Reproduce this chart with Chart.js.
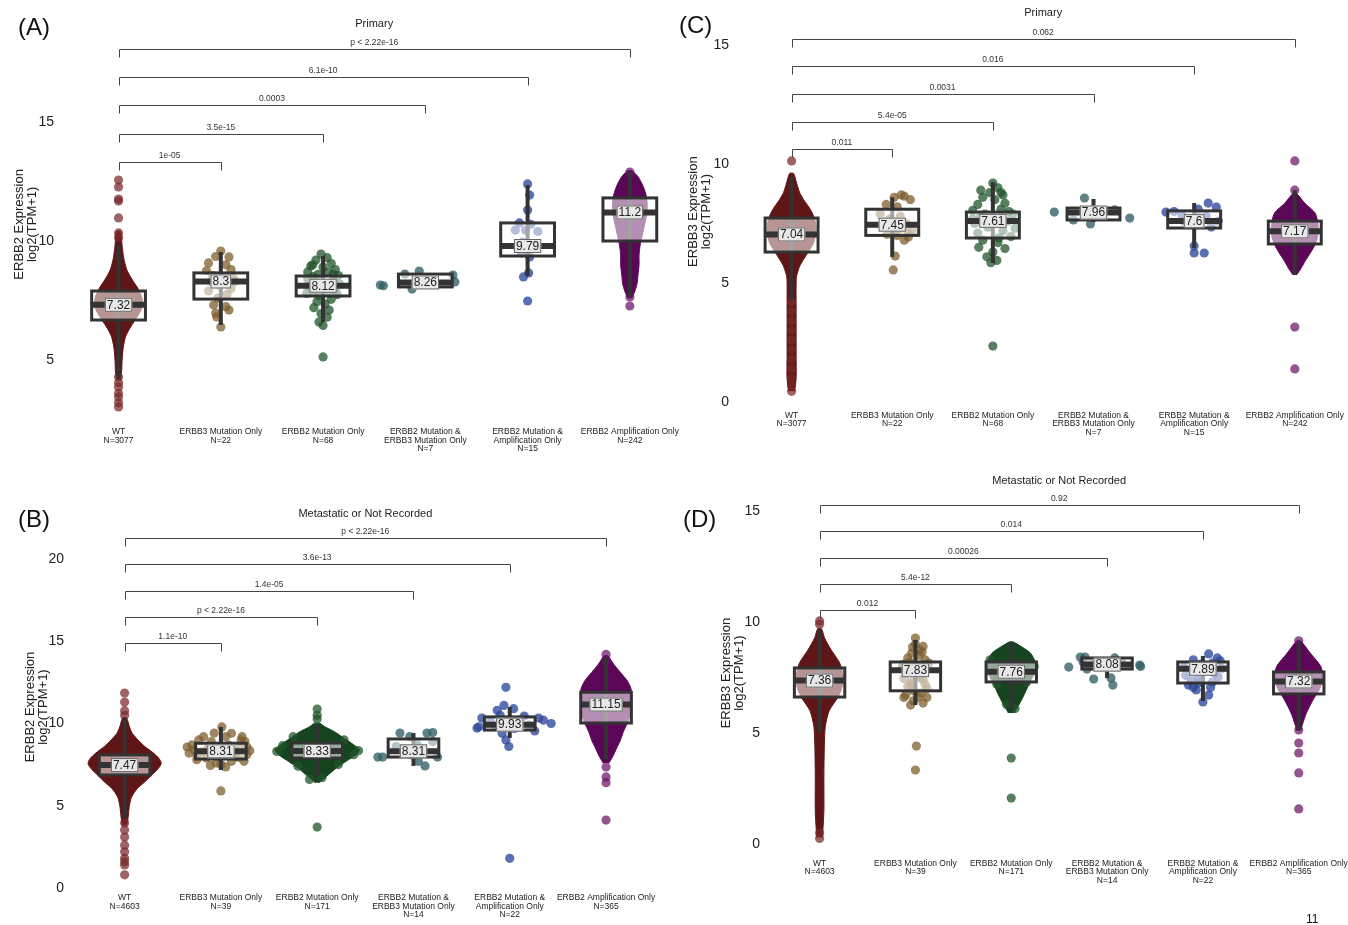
<!DOCTYPE html>
<html>
<head>
<meta charset="utf-8">
<script src="https://cdn.jsdelivr.net/npm/chart.js@4.4.1/dist/chart.umd.min.js"></script>
<style>
  html, body { margin: 0; padding: 0; background: #fff; }
  #page { position: relative; width: 1348px; height: 925px; overflow: hidden;
          font-family: 'Liberation Sans', Arial, sans-serif; }
  canvas { position: absolute; }
  .tag { position: absolute; font-size: 24px; color: #111; line-height: 1; }
  .pageno { position: absolute; font-size: 12px; color: #111; }
</style>
</head>
<body>
<div id="page">
  <canvas id="cA" width="700" height="460" style="left:0;top:0"></canvas>
  <canvas id="cB" width="700" height="465" style="left:0;top:460px"></canvas>
  <canvas id="cC" width="668" height="440" style="left:680px;top:0"></canvas>
  <canvas id="cD" width="668" height="465" style="left:680px;top:460px"></canvas>
  <div class="tag" style="left:18px;top:15px">(A)</div>
  <div class="tag" style="left:18px;top:507px">(B)</div>
  <div class="tag" style="left:679px;top:13px">(C)</div>
  <div class="tag" style="left:683px;top:507px">(D)</div>
  <div class="pageno" style="left:1306px;top:912px">11</div>
</div>
<script>
// ---- categories and group sizes ----
const categories = [
  'WT',
  'ERBB3 Mutation Only',
  'ERBB2 Mutation Only',
  'ERBB2 Mutation &\nERBB3 Mutation Only',
  'ERBB2 Mutation &\nAmplification Only',
  'ERBB2 Amplification Only'
];
const countsPrimary = [3077, 22, 68, 7, 15, 242];
const countsMetastatic = [4603, 39, 171, 14, 22, 365];

// ---- y tick values ----
const yTicksA = [5, 10, 15];
const yTicksB = [0, 5, 10, 15, 20];
const yTicksC = [0, 5, 10, 15];
const yTicksD = [0, 5, 10, 15];

// ---- box statistics per group: [lower whisker, Q1, median, Q3, upper whisker] ----
const boxA = [[4.2, 6.68, 7.32, 7.90, 9.83], [6.47, 7.56, 8.3, 8.66, 9.54], [6.6, 7.69, 8.12, 8.53, 9.37],
              [8.07, 8.07, 8.26, 8.61, 8.61], [8.53, 9.37, 9.79, 10.76, 12.35], [7.65, 10.0, 11.2, 11.81, 12.9]];
const boxB = [[4.26, 6.87, 7.47, 8.09, 10.33], [7.17, 7.84, 8.31, 8.8, 9.79], [6.8, 7.9, 8.33, 8.81, 9.9],
              [7.42, 7.96, 8.31, 9.06, 9.42], [9.12, 9.6, 9.93, 10.4, 11.0], [7.8, 10.03, 11.15, 11.9, 14.0]];
const boxC = [[4.3, 6.3, 7.04, 7.73, 9.45], [6.1, 7.0, 7.45, 8.1, 8.6], [5.84, 6.89, 7.61, 7.98, 9.24],
              [7.56, 7.65, 7.96, 8.15, 8.53], [6.47, 7.31, 7.6, 8.03, 8.36], [5.34, 6.64, 7.17, 7.6, 8.9]];
const boxD = [[5.0, 6.62, 7.36, 7.93, 9.64], [6.26, 6.9, 7.83, 8.2, 9.19], [6.04, 7.3, 7.76, 8.2, 9.05],
              [7.48, 7.88, 8.08, 8.38, 8.42], [6.44, 7.25, 7.89, 8.2, 8.47], [5.14, 6.76, 7.32, 7.75, 9.1]];

// ---- density outlines for the large groups: [value, half width in category units] ----
const violinA = [
  [[4.2,0.02],[4.5,0.03],[5.0,0.035],[5.5,0.045],[6.0,0.07],[6.4,0.12],[6.8,0.18],[7.2,0.23],[7.6,0.23],[8.0,0.19],[8.4,0.13],[8.8,0.08],[9.3,0.05],[9.8,0.035],[10.4,0.02]],
  null, null, null, null,
  [[7.6,0.02],[7.9,0.05],[8.2,0.07],[8.6,0.08],[9.0,0.09],[9.4,0.09],[9.8,0.1],[10.2,0.12],[10.6,0.14],[11.0,0.16],[11.5,0.17],[11.9,0.16],[12.3,0.13],[12.7,0.08],[12.95,0.02]]
];
const violinB = [
  [[3.8,0.02],[4.0,0.03],[4.5,0.04],[5.0,0.05],[5.5,0.07],[5.8,0.1],[6.1,0.14],[6.4,0.2],[6.8,0.27],[7.2,0.34],[7.55,0.38],[7.85,0.36],[8.2,0.3],[8.6,0.21],[9.0,0.14],[9.4,0.08],[9.8,0.05],[10.35,0.02]],
  null,
  [[6.4,0.02],[6.6,0.06],[6.9,0.12],[7.3,0.2],[7.7,0.3],[8.1,0.4],[8.4,0.44],[8.7,0.38],[9.1,0.28],[9.5,0.18],[9.8,0.08],[10.0,0.03]],
  null, null,
  [[7.6,0.03],[8.0,0.07],[8.5,0.11],[9.0,0.15],[9.5,0.18],[10.0,0.22],[10.5,0.25],[11.0,0.26],[11.5,0.26],[12.1,0.26],[12.6,0.22],[13.1,0.15],[13.6,0.08],[14.1,0.02]]
];
const violinC = [
  [[0.45,0.03],[1.0,0.045],[2.0,0.045],[3.0,0.045],[4.0,0.045],[5.0,0.045],[5.3,0.05],[5.7,0.08],[6.0,0.12],[6.4,0.18],[6.7,0.22],[7.1,0.24],[7.5,0.24],[7.9,0.21],[8.2,0.17],[8.5,0.12],[8.8,0.08],[9.2,0.05],[9.6,0.02]],
  null, null, null, null,
  [[5.35,0.02],[5.6,0.06],[5.9,0.1],[6.3,0.16],[6.6,0.2],[7.0,0.23],[7.5,0.23],[7.95,0.2],[8.35,0.1],[8.75,0.02]]
];
const violinD = [
  [[0.3,0.03],[1.5,0.045],[3.0,0.045],[4.5,0.05],[5.3,0.06],[6.0,0.1],[6.6,0.19],[7.0,0.23],[7.5,0.25],[8.15,0.21],[8.75,0.12],[9.3,0.05],[9.7,0.02]],
  null,
  [[5.9,0.03],[6.2,0.07],[6.6,0.12],[7.25,0.19],[7.8,0.25],[8.2,0.25],[8.6,0.2],[8.85,0.12],[9.1,0.02]],
  null, null,
  [[5.1,0.02],[5.4,0.04],[5.9,0.08],[6.5,0.15],[7.0,0.22],[7.5,0.25],[8.0,0.23],[8.6,0.12],[9.15,0.02]]
];

// ---- individual samples: [group, horizontal offset, value] ----
const pointsA = [
  [0,0,12.56],[0,0,12.27],[0,0,11.76],[0,0,11.68],[0,0,10.97],[0,0,10.34],[0,0,10.15],
  [0,0,4.29],[0,0,4.05],[0,0,3.87],[0,0,3.6],[0,0,3.45],[0,0,3.2],[0,0,3.03],
  [1,0.0,9.58],[1,0.08,9.33],[1,-0.05,9.35],[1,-0.12,9.08],[1,0.05,9.0],[1,-0.14,8.75],[1,0.1,8.8],[1,-0.08,8.55],
  [1,0.12,8.45],[1,-0.02,8.15],[1,0.1,8.0],[1,-0.12,7.9],[1,0.06,7.75],[1,-0.03,7.6],[1,-0.07,7.31],[1,0.05,7.24],
  [1,-0.05,6.97],[1,0.08,7.1],[1,-0.04,6.81],[1,0.0,6.39],[1,0.14,8.3],[1,-0.1,8.3],
  [2,-0.02,9.45],[2,0.04,9.3],[2,-0.07,9.2],[2,0.08,9.05],[2,-0.12,8.95],[2,0.0,8.9],[2,0.12,8.8],[2,-0.15,8.7],
  [2,0.05,8.7],[2,-0.05,8.6],[2,0.15,8.55],[2,-0.15,8.4],[2,0.1,8.35],[2,-0.08,8.3],[2,0.16,8.2],[2,-0.14,8.1],
  [2,0.02,8.0],[2,0.12,7.95],[2,-0.1,7.9],[2,0.06,7.8],[2,-0.04,7.7],[2,0.14,7.75],[2,-0.16,7.8],[2,0.08,7.55],
  [2,-0.06,7.45],[2,0.02,7.35],[2,-0.09,7.2],[2,0.06,7.1],[2,-0.02,6.95],[2,0.04,6.8],[2,-0.04,6.6],[2,0.0,6.45],
  [2,0.0,5.13],[2,-0.1,8.5],[2,0.1,8.6],[2,-0.1,9.0],
  [3,-0.44,8.15],[3,-0.41,8.12],[3,-0.2,8.61],[3,-0.06,8.74],[3,-0.13,7.98],[3,0.27,8.57],[3,0.29,8.28],
  [4,0,12.4],[4,0.02,11.93],[4,0,11.3],[4,-0.08,10.76],[4,0.03,10.7],[4,-0.12,10.46],[4,-0.02,10.45],[4,0.1,10.4],
  [4,-0.05,9.95],[4,0.05,9.7],[4,0.02,9.33],[4,0.01,8.66],[4,-0.04,8.49],[4,0,7.48],[4,-0.06,9.5],
  [5,0,12.9],[5,0,7.65],[5,0,7.27]
];
const pointsB = [
  [0,0,11.85],[0,0,11.3],[0,0,10.78],[0,0,10.5],
  [0,0,3.95],[0,0,3.53],[0,0,3.1],[0,0,2.6],[0,0,2.2],[0,0,1.8],[0,0,1.6],[0,0,1.4],[0,0,0.8],
  [1,0.01,9.79],[1,-0.07,9.42],[1,0.11,9.4],[1,-0.23,9.0],[1,0.21,9.0],[1,-0.1,8.9],[1,0.05,9.2],[1,-0.33,8.2],
  [1,-0.35,8.57],[1,0.27,8.57],[1,0.27,8.1],[1,-0.15,7.9],[1,-0.05,7.6],[1,0.11,7.7],[1,0.24,7.7],[1,0.05,7.36],
  [1,-0.2,8.27],[1,0.16,8.3],[1,0.19,8.5],[1,-0.28,8.4],[1,-0.3,8.7],[1,0.3,8.35],[1,-0.12,8.6],[1,0.08,8.7],
  [1,-0.02,8.0],[1,0.15,8.0],[1,-0.25,8.05],[1,0.22,9.2],[1,-0.18,9.2],[1,0.0,5.9],[1,-0.08,8.2],[1,0.03,8.4],
  [1,0.12,8.15],[1,-0.14,8.45],[1,0.25,8.9],[1,-0.25,7.8],[1,0.0,7.5],[1,-0.11,7.45],[1,0.18,7.95],
  [2,0,10.88],[2,0,10.5],[2,0,10.27],[2,0,3.7],[2,-0.42,8.3],[2,0.43,8.35],[2,-0.36,8.65],[2,0.38,8.1],
  [2,-0.25,9.2],[2,0.28,9.0],[2,-0.2,7.4],[2,0.22,7.5],[2,-0.08,6.6],[2,0.05,6.7],
  [3,-0.37,7.96],[3,-0.32,7.96],[3,-0.14,9.42],[3,-0.04,9.2],[3,0.14,9.42],[3,0.2,9.45],[3,0.04,8.7],
  [3,-0.18,8.6],[3,0.2,8.9],[3,0.25,7.96],[3,0.12,7.42],[3,0.05,7.7],[3,-0.03,8.1],[3,-0.1,8.3],
  [4,-0.04,12.2],[4,-0.06,11.1],[4,-0.13,10.8],[4,0.04,10.9],[4,-0.29,10.33],[4,-0.34,9.72],[4,-0.32,9.8],
  [4,0.3,10.33],[4,0.35,10.2],[4,0.43,10.0],[4,0.26,9.55],[4,-0.04,9.0],[4,-0.01,8.6],[4,-0.1,10.5],
  [4,0.1,10.2],[4,0.0,1.8],[4,-0.2,10.1],[4,0.2,9.9],[4,0.15,10.45],[4,-0.15,9.85],[4,0.05,9.7],[4,-0.08,9.4],
  [5,0,14.2],[5,0,13.86],[5,0,7.36],[5,0,6.75],[5,0,6.4],[5,0,4.13]
];
const pointsC = [
  [0,0,10.13],[0,0,4.2],[0,0,3.8],[0,0,3.4],[0,0,3.0],[0,0,2.6],[0,0,2.2],[0,0,1.8],[0,0,1.4],[0,0,1.0],[0,0,0.7],[0,0,0.45],
  [1,0.09,8.7],[1,0.02,8.6],[1,0.18,8.5],[1,0.12,8.65],[1,-0.06,8.3],[1,0.05,8.2],[1,-0.12,7.9],[1,0.08,7.8],
  [1,-0.04,7.6],[1,0.14,7.5],[1,-0.1,7.4],[1,0.03,7.2],[1,0.16,7.1],[1,0.1,7.3],[1,-0.05,7.05],[1,0.16,6.93],
  [1,0.12,6.8],[1,0.05,7.0],[1,-0.02,7.7],[1,0.03,6.13],[1,0.01,5.55],[1,0.2,7.2],
  [2,0,9.2],[2,0.05,9.0],[2,-0.03,8.8],[2,0.1,8.7],[2,-0.1,8.6],[2,0.02,8.5],[2,0.12,8.35],[2,-0.15,8.3],
  [2,0.08,8.1],[2,-0.2,8.05],[2,0.2,7.9],[2,-0.08,7.9],[2,0.15,7.6],[2,-0.18,7.5],[2,0.22,7.3],[2,-0.05,7.35],
  [2,0.1,7.2],[2,-0.15,7.1],[2,0.18,6.95],[2,-0.1,6.8],[2,0.05,6.7],[2,-0.14,6.5],[2,0.12,6.45],[2,0.0,6.3],
  [2,-0.06,6.1],[2,0.04,5.95],[2,-0.02,5.85],[2,0.0,2.35],[2,-0.12,8.9],[2,0.16,8.0],[2,-0.2,7.7],[2,0.06,6.9],
  [2,-0.12,7.8],[2,0.08,8.8],
  [3,-0.39,7.98],[3,-0.09,8.57],[3,-0.2,7.65],[3,-0.03,7.48],[3,0.21,8.07],[3,0.36,7.73],[3,0.08,7.9],
  [4,-0.28,7.98],[4,-0.2,8.0],[4,0.14,8.36],[4,0.22,8.19],[4,0.04,8.1],[4,0.12,7.8],[4,0.17,7.35],[4,0,6.55],
  [4,0.1,6.26],[4,0.0,6.26],[4,-0.12,7.85],[4,-0.06,7.45],[4,0.24,7.6],[4,-0.1,7.6],[4,0.06,7.7],
  [5,0,10.13],[5,0,8.9],[5,0,3.15],[5,0,1.39]
];
const pointsD = [
  [0,0,10.05],[0,0,9.9],[0,0,0.5],[0,0,0.25],
  [1,0,9.28],[1,-0.03,8.87],[1,0.07,8.65],[1,-0.08,8.38],[1,0.04,8.5],[1,0.1,8.3],[1,-0.12,8.1],[1,0.06,8.0],
  [1,-0.05,7.9],[1,-0.1,7.7],[1,0.03,7.6],[1,-0.12,7.45],[1,0.08,7.4],[1,-0.04,7.3],[1,-0.05,7.16],[1,0.12,7.0],
  [1,-0.1,6.71],[1,0.03,6.62],[1,-0.05,6.26],[1,0.08,6.35],[1,0.01,4.41],[1,0.0,3.33],[1,0.0,9.0],[1,0.08,8.9],
  [1,-0.06,8.2],[1,0.02,7.8],[1,-0.14,7.95],[1,0.1,7.2],[1,0.12,6.6],[1,-0.02,6.9],[1,0.05,7.5],[1,-0.08,7.1],
  [1,0.14,8.15],[1,-0.02,6.45],[1,0.06,6.8],[1,-0.12,6.6],[1,0.04,8.75],[1,-0.04,8.6],[1,0.1,7.75],
  [2,0,3.87],[2,0,2.07],[2,-0.22,8.3],[2,0.24,8.0],[2,-0.15,7.2],[2,0.16,7.3],[2,-0.05,6.3],[2,0.04,6.1],
  [3,-0.4,7.97],[3,-0.28,8.42],[3,-0.23,8.42],[3,-0.21,7.88],[3,-0.14,7.43],[3,0.04,7.48],[3,0.06,7.16],
  [3,0.08,8.38],[3,0.34,8.06],[3,0.35,8.0],[3,-0.15,8.2],[3,0.15,8.2],[3,-0.02,8.0],[3,-0.25,8.2],
  [4,0.06,8.56],[4,0.15,8.38],[4,0.18,8.25],[4,-0.02,8.1],[4,-0.2,7.97],[4,0.16,7.52],[4,-0.15,7.16],[4,-0.07,6.94],
  [4,-0.1,7.05],[4,0.06,6.71],[4,0,6.4],[4,-0.05,7.5],[4,0.1,7.3],[4,-0.18,7.6],[4,0.2,7.9],[4,0.05,7.8],
  [4,-0.1,8.3],[4,0.1,8.15],[4,-0.12,7.35],[4,0.08,7.05],[4,0.12,7.7],[4,-0.05,7.25],
  [5,0,9.15],[5,0,5.14],[5,0,4.55],[5,0,4.1],[5,0,3.2],[5,0,1.58]
];

// ---- pairwise comparisons against WT: [group, bracket height, p-value text] ----
const bracketsA = [[1,13.32,'1e-05'],[2,14.50,'3.5e-15'],[3,15.71,'0.0003'],[4,16.89,'6.1e-10'],[5,18.07,'p < 2.22e-16']];
const bracketsB = [[1,14.9,'1.1e-10'],[2,16.47,'p < 2.22e-16'],[3,18.05,'1.4e-05'],[4,19.7,'3.6e-13'],[5,21.28,'p < 2.22e-16']];
const bracketsC = [[1,10.63,'0.011'],[2,11.76,'5.4e-05'],[3,12.93,'0.0031'],[4,14.12,'0.016'],[5,15.25,'0.062']];
const bracketsD = [[1,10.54,'0.012'],[2,11.71,'5.4e-12'],[3,12.9,'0.00026'],[4,14.11,'0.014'],[5,15.27,'0.92']];

// ---- styling ----
const FONT = "'Liberation Sans', Arial, sans-serif";
Chart.defaults.font.family = FONT;
Chart.defaults.color = '#222';
const FILL = ['rgb(96,22,22)', 'rgb(118,88,40)', 'rgb(22,68,30)', 'rgb(44,88,92)', 'rgb(38,62,145)', 'rgb(92,6,88)'];
const DOT = ['rgba(120,40,40,0.72)', 'rgba(125,95,45,0.75)', 'rgba(32,84,42,0.75)', 'rgba(50,95,100,0.78)',
             'rgba(45,72,155,0.78)', 'rgba(105,20,100,0.72)'];
const BOX_HALF = 0.263;

function xLabel(i, counts) {
  return categories[i].split('\n').concat('N=' + counts[i]);
}

// boxes, whiskers and median labels
function boxPlugin(stats) {
  return {
    id: 'boxes',
    afterDatasetsDraw(chart) {
      const ctx = chart.ctx, xs = chart.scales.x, ys = chart.scales.y;
      stats.forEach((s, i) => {
        const [lo, q1, med, q3, hi] = s.map(v => ys.getPixelForValue(v));
        const cx = xs.getPixelForValue(i);
        const hw = xs.getPixelForValue(i + BOX_HALF) - cx;
        ctx.save();
        ctx.strokeStyle = '#333';
        ctx.lineWidth = 4;
        ctx.beginPath(); ctx.moveTo(cx, hi); ctx.lineTo(cx, lo); ctx.stroke();
        ctx.fillStyle = 'rgba(255,255,255,0.55)';
        ctx.fillRect(cx - hw, q3, 2 * hw, q1 - q3);
        ctx.lineWidth = 3;
        ctx.strokeRect(cx - hw, q3, 2 * hw, q1 - q3);
        ctx.lineWidth = 6;
        ctx.beginPath(); ctx.moveTo(cx - hw, med); ctx.lineTo(cx + hw, med); ctx.stroke();
        const t = String(s[2]);
        ctx.font = '12px ' + FONT;
        const tw = ctx.measureText(t).width;
        ctx.fillStyle = '#e8e8e8';
        ctx.fillRect(cx - tw / 2 - 2, med - 7, tw + 4, 14);
        ctx.lineWidth = 1;
        ctx.strokeStyle = '#666';
        ctx.strokeRect(cx - tw / 2 - 2 + 0.5, med - 7 + 0.5, tw + 3, 13);
        ctx.fillStyle = '#222';
        ctx.textAlign = 'center';
        ctx.textBaseline = 'middle';
        ctx.fillText(t, cx, med + 0.5);
        ctx.restore();
      });
    }
  };
}

// panel title and significance brackets
function bracketPlugin(brackets, title, titleY) {
  return {
    id: 'brackets',
    afterDraw(chart) {
      const ctx = chart.ctx, xs = chart.scales.x, ys = chart.scales.y;
      const x0 = xs.getPixelForValue(0);
      ctx.save();
      ctx.strokeStyle = '#444';
      ctx.lineWidth = 1;
      ctx.fillStyle = '#333';
      ctx.textAlign = 'center';
      ctx.textBaseline = 'middle';
      ctx.font = '8.5px ' + FONT;
      brackets.forEach(([g, v, label]) => {
        const x1 = xs.getPixelForValue(g);
        const y = Math.round(ys.getPixelForValue(v)) + 0.5;
        ctx.beginPath();
        ctx.moveTo(Math.round(x0) + 0.5, y + 8);
        ctx.lineTo(Math.round(x0) + 0.5, y);
        ctx.lineTo(Math.round(x1) + 0.5, y);
        ctx.lineTo(Math.round(x1) + 0.5, y + 8);
        ctx.stroke();
        ctx.fillText(label, (x0 + x1) / 2, y - 7);
      });
      ctx.font = '11px ' + FONT;
      ctx.fillStyle = '#222';
      ctx.fillText(title, (x0 + xs.getPixelForValue(5)) / 2, titleY);
      ctx.restore();
    }
  };
}

function makePanel(id, cfg) {
  const datasets = [];
  cfg.violins.forEach((prof, g) => {
    if (!prof) return;
    const right = prof.map(([v, w]) => ({x: g + w, y: v}));
    const left = prof.slice().reverse().map(([v, w]) => ({x: g - w, y: v}));
    datasets.push({
      type: 'line', data: right.concat(left), order: 3,
      fill: 'shape', backgroundColor: FILL[g], borderColor: FILL[g], borderWidth: 1,
      pointRadius: 0, tension: 0.25
    });
  });
  for (let g = 0; g < 6; g++) {
    const pts = cfg.points.filter(p => p[0] === g).map(([, dx, v]) => ({x: g + dx, y: v}));
    datasets.push({
      type: 'scatter', data: pts, order: 2,
      pointRadius: 4.6, pointBackgroundColor: DOT[g], pointBorderWidth: 0
    });
  }
  const xLabels = categories.map((_, i) => xLabel(i, cfg.counts));
  new Chart(document.getElementById(id), {
    type: 'scatter',
    data: {datasets},
    options: {
      responsive: false, animation: false,
      layout: {padding: {top: cfg.padTop, left: 0, right: 0, bottom: 0}},
      plugins: {legend: {display: false}, tooltip: {enabled: false}},
      scales: {
        x: {
          type: 'linear', min: cfg.xMin, max: cfg.xMax,
          grid: {display: false, drawTicks: false}, border: {display: false},
          afterBuildTicks: s => { s.ticks = categories.map((_, i) => ({value: i})); },
          afterFit: s => { s.height = cfg.axisH; s.paddingLeft = 0; s.paddingRight = 0; },
          ticks: {autoSkip: false, maxRotation: 0, padding: cfg.xPad, color: '#222',
                  font: {size: 8.5, lineHeight: 1.0}, callback: v => xLabels[v]}
        },
        y: {
          type: 'linear', min: cfg.yMin, max: cfg.yMax,
          grid: {display: false, drawTicks: false}, border: {display: false},
          afterBuildTicks: s => { s.ticks = cfg.yTicks.map(v => ({value: v})); },
          afterFit: s => { s.width = cfg.axisW; s.paddingTop = 0; s.paddingBottom = 0; },
          ticks: {padding: 8, color: '#222', font: {size: 14}},
          title: {display: true, text: [cfg.yTitle, 'log2(TPM+1)'], color: '#222',
                  font: {size: 13, lineHeight: 1.0}, padding: {top: cfg.titlePad, bottom: 0}}
        }
      }
    },
    plugins: [boxPlugin(cfg.box), bracketPlugin(cfg.brackets, cfg.title, cfg.titleY)]
  });
}

makePanel('cA', {
  counts: countsPrimary, yTicks: yTicksA, box: boxA, violins: violinA, points: pointsA, brackets: bracketsA,
  title: 'Primary', yTitle: 'ERBB2 Expression',
  xMin: -0.553, xMax: 5.641, yMin: 2.4, yMax: 19.0, padTop: 26.8, axisH: 38.1, axisW: 62,
  xPad: 6, titlePad: 13, titleY: 24
});
makePanel('cB', {
  counts: countsMetastatic, yTicks: yTicksB, box: boxB, violins: violinB, points: pointsB, brackets: bracketsB,
  title: 'Metastatic or Not Recorded', yTitle: 'ERBB2 Expression',
  xMin: -0.5464, xMax: 5.928, yMin: -0.3, yMax: 22.3, padTop: 61.2, axisH: 32.1, axisW: 72,
  xPad: 1, titlePad: 23.5, titleY: 54
});
makePanel('cC', {
  counts: countsPrimary, yTicks: yTicksC, box: boxC, violins: violinC, points: pointsC, brackets: bracketsC,
  title: 'Primary', yTitle: 'ERBB3 Expression',
  xMin: -0.5424, xMax: 5.483, yMin: -0.3, yMax: 16.3, padTop: 14.06, axisH: 30.86, axisW: 57,
  xPad: 2, titlePad: 7.3, titleY: 13.3
});
makePanel('cD', {
  counts: countsMetastatic, yTicks: yTicksD, box: boxD, violins: violinD, points: pointsD, brackets: bracketsD,
  title: 'Metastatic or Not Recorded', yTitle: 'ERBB3 Expression',
  xMin: -0.5383, xMax: 5.466, yMin: -0.6, yMax: 16.0, padTop: 28.8, axisH: 67.68, axisW: 88,
  xPad: 2, titlePad: 39.5, titleY: 21
});
</script>
</body>
</html>
